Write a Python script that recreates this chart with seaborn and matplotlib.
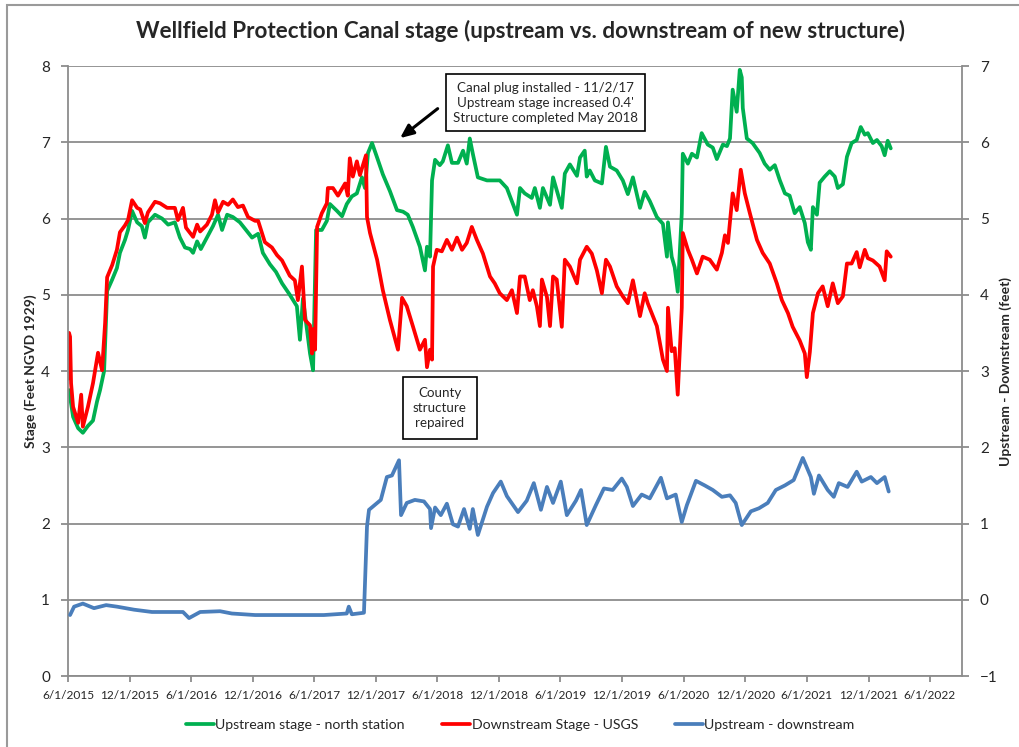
import numpy as np
import pandas as pd
import seaborn as sns
import matplotlib
matplotlib.use("Agg")
import matplotlib.pyplot as plt
from matplotlib.patches import Rectangle

start = pd.Timestamp("2015-06-01")

# days since 6/1/2015, stage in feet NGVD 1929
up_day = [3, 15, 30, 44, 59, 74, 86, 95, 107, 116, 131, 145, 154, 169, 178, 190, 205, 219, 228, 237,
          258, 279, 297, 317, 332, 347, 362, 371, 383, 394, 412, 430, 445, 457, 472, 489, 510, 528, 546, 564,
          578, 599, 617, 635, 658, 679, 688, 697, 718, 727, 736, 753, 768, 777, 798, 813, 827, 842, 857, 872,
          881, 890, 902, 917, 934, 955, 976, 994, 1008, 1023, 1044, 1059, 1065, 1074, 1080, 1089, 1103, 1112, 1127, 1139,
          1157, 1172, 1183, 1192, 1201, 1216, 1243, 1261, 1281, 1302, 1332, 1341, 1355, 1376, 1385, 1400, 1409, 1430, 1439, 1465,
          1474, 1489, 1510, 1519, 1533, 1539, 1548, 1563, 1584, 1596, 1608, 1628, 1646, 1661, 1676, 1697, 1711, 1726, 1747, 1765,
          1777, 1780, 1791, 1800, 1809, 1821, 1824, 1839, 1851, 1866, 1880, 1898, 1913, 1925, 1943, 1955, 1964, 1972, 1984, 1993,
          1999, 2002, 2014, 2031, 2052, 2067, 2082, 2097, 2112, 2127, 2141, 2156, 2171, 2186, 2195, 2204, 2210, 2222, 2230, 2245,
          2260, 2275, 2284, 2299, 2311, 2325, 2340, 2352, 2364, 2373, 2388, 2400, 2414, 2423, 2432, 2441]
up_stage = [3.75, 3.40, 3.25, 3.19, 3.28, 3.35, 3.60, 3.75, 4.00, 5.05, 5.20, 5.35, 5.55, 5.72, 5.85, 6.10, 5.95, 5.90, 5.75, 5.95,
            6.05, 6.00, 5.92, 5.95, 5.75, 5.62, 5.60, 5.55, 5.70, 5.60, 5.75, 5.90, 6.05, 5.85, 6.05, 6.02, 5.95, 5.85, 5.75, 5.80,
            5.55, 5.40, 5.30, 5.15, 5.00, 4.85, 4.41, 4.95, 4.23, 4.01, 5.85, 5.85, 5.97, 6.19, 6.10, 6.03, 6.19, 6.29, 6.33, 6.54,
            6.40, 6.86, 6.99, 6.80, 6.58, 6.36, 6.11, 6.09, 6.05, 5.89, 5.63, 5.32, 5.63, 5.50, 6.50, 6.77, 6.70, 6.75, 6.96, 6.73,
            6.73, 6.89, 6.72, 7.05, 6.85, 6.54, 6.50, 6.50, 6.50, 6.40, 6.05, 6.40, 6.33, 6.27, 6.40, 6.14, 6.40, 6.18, 6.54, 6.14,
            6.59, 6.71, 6.56, 6.80, 6.89, 6.55, 6.63, 6.50, 6.46, 6.94, 6.68, 6.63, 6.50, 6.32, 6.54, 6.14, 6.35, 6.23, 6.02, 5.93,
            5.50, 5.95, 5.50, 5.36, 5.04, 6.07, 6.85, 6.72, 6.85, 6.80, 7.12, 6.97, 6.93, 6.78, 6.97, 6.95, 7.05, 7.69, 7.40, 7.95,
            7.85, 7.45, 7.05, 6.99, 6.86, 6.72, 6.64, 6.70, 6.50, 6.33, 6.30, 6.07, 6.15, 5.94, 5.69, 5.59, 6.15, 6.05, 6.47, 6.55,
            6.62, 6.55, 6.40, 6.45, 6.81, 6.99, 7.03, 7.20, 7.10, 7.12, 6.99, 7.03, 6.95, 6.83, 7.02, 6.92]

down_day = [0, 3, 6, 9, 15, 30, 39, 44, 59, 74, 89, 101, 110, 116, 131, 145, 154, 169, 178, 190,
            205, 214, 228, 237, 258, 273, 294, 317, 326, 341, 350, 371, 383, 392, 412, 427, 436, 445, 460, 475,
            489, 504, 519, 534, 555, 564, 584, 605, 620, 635, 650, 658, 673, 682, 694, 703, 718, 724, 727, 733,
            739, 753, 768, 771, 786, 801, 822, 830, 836, 845, 857, 866, 875, 884, 887, 896, 917, 934, 955, 979,
            991, 1005, 1023, 1044, 1059, 1065, 1074, 1080, 1083, 1094, 1109, 1124, 1139, 1154, 1169, 1183, 1198, 1213, 1231, 1252,
            1266, 1281, 1302, 1317, 1332, 1341, 1355, 1370, 1379, 1391, 1400, 1406, 1421, 1430, 1439, 1450, 1465, 1474, 1489, 1510,
            1519, 1539, 1554, 1569, 1584, 1596, 1608, 1628, 1646, 1661, 1676, 1697, 1711, 1720, 1747, 1765, 1777, 1780, 1791, 1800,
            1809, 1821, 1824, 1839, 1851, 1866, 1883, 1904, 1925, 1940, 1949, 1958, 1972, 1984, 1996, 2008, 2023, 2044, 2061, 2082,
            2103, 2118, 2136, 2150, 2171, 2186, 2192, 2201, 2210, 2225, 2239, 2254, 2269, 2284, 2299, 2311, 2325, 2340, 2349, 2364,
            2373, 2388, 2408, 2423, 2429, 2441]
down_stage = [3.90, 4.50, 4.45, 3.84, 3.53, 3.32, 3.69, 3.27, 3.53, 3.84, 4.24, 4.01, 4.63, 5.23, 5.39, 5.59, 5.82, 5.91, 5.98, 6.24,
              6.14, 6.12, 5.94, 6.08, 6.22, 6.20, 6.14, 6.14, 5.98, 6.14, 5.88, 5.76, 5.92, 5.83, 5.92, 6.05, 6.24, 6.08, 6.22, 6.18,
              6.25, 6.15, 6.17, 6.02, 5.97, 5.97, 5.69, 5.62, 5.52, 5.45, 5.32, 5.25, 5.19, 4.93, 5.37, 4.67, 4.60, 4.23, 4.55, 4.28,
              5.89, 6.07, 6.20, 6.40, 6.40, 6.30, 6.46, 6.30, 6.79, 6.55, 6.75, 6.57, 6.70, 6.83, 6.02, 5.81, 5.46, 5.06, 4.67, 4.28,
              4.96, 4.85, 4.59, 4.28, 4.41, 4.05, 4.28, 4.15, 5.37, 5.59, 5.57, 5.72, 5.59, 5.75, 5.59, 5.68, 5.89, 5.72, 5.54, 5.24,
              5.15, 5.02, 4.93, 5.06, 4.76, 5.24, 5.24, 4.93, 5.06, 4.85, 4.59, 5.20, 4.97, 4.59, 5.24, 5.20, 4.58, 5.46, 5.37, 5.15,
              5.46, 5.63, 5.54, 5.32, 5.02, 5.46, 5.37, 5.11, 4.98, 4.89, 5.19, 4.72, 5.02, 4.89, 4.59, 4.15, 4.00, 4.83, 4.26, 4.30,
              3.69, 4.83, 5.81, 5.59, 5.46, 5.28, 5.50, 5.46, 5.33, 5.55, 5.78, 5.68, 6.33, 6.11, 6.64, 6.33, 6.07, 5.72, 5.55, 5.41,
              5.15, 4.93, 4.76, 4.58, 4.40, 4.23, 3.92, 4.25, 4.76, 5.02, 5.11, 4.85, 5.15, 4.89, 4.98, 5.41, 5.41, 5.56, 5.36, 5.59,
              5.48, 5.45, 5.37, 5.19, 5.57, 5.50]

# upstream - downstream (feet), right axis
diff_day = [6, 18, 44, 77, 113, 145, 196, 249, 341, 359, 392, 451, 486, 555, 655, 759, 827, 833, 842, 878,
            887, 893, 928, 946, 961, 982, 988, 1005, 1029, 1056, 1074, 1077, 1089, 1106, 1124, 1142, 1157, 1175, 1192, 1201,
            1216, 1243, 1261, 1284, 1302, 1335, 1361, 1382, 1403, 1421, 1439, 1462, 1480, 1507, 1522, 1539, 1566, 1590, 1616, 1643,
            1658, 1676, 1702, 1726, 1759, 1777, 1803, 1821, 1836, 1863, 1889, 1913, 1940, 1964, 1981, 1999, 2026, 2050, 2076, 2100,
            2127, 2153, 2180, 2204, 2213, 2228, 2254, 2272, 2287, 2313, 2340, 2355, 2382, 2400, 2423, 2435]
diff_ft = [-0.20, -0.09, -0.05, -0.11, -0.07, -0.09, -0.13, -0.16, -0.16, -0.24, -0.16, -0.15, -0.18, -0.20, -0.20, -0.20, -0.18, -0.09, -0.19, -0.17,
           0.96, 1.18, 1.31, 1.61, 1.63, 1.83, 1.11, 1.27, 1.31, 1.29, 1.19, 0.94, 1.21, 1.11, 1.26, 0.99, 0.96, 1.19, 0.93, 1.19,
           0.85, 1.22, 1.40, 1.55, 1.36, 1.15, 1.30, 1.53, 1.18, 1.48, 1.27, 1.55, 1.11, 1.30, 1.44, 0.98, 1.24, 1.46, 1.44, 1.59,
           1.48, 1.23, 1.38, 1.33, 1.60, 1.33, 1.38, 1.02, 1.24, 1.56, 1.50, 1.44, 1.35, 1.37, 1.27, 0.98, 1.16, 1.20, 1.27, 1.44,
           1.50, 1.57, 1.86, 1.61, 1.39, 1.63, 1.44, 1.35, 1.53, 1.48, 1.68, 1.55, 1.61, 1.53, 1.61, 1.42]

tick_dates = pd.date_range("2015-06-01", "2022-06-01", freq="6MS")
tick_labels = [f"{d.month}/{d.day}/{d.year}" for d in tick_dates]


def to_dates(days):
    return start + pd.to_timedelta(days, unit="D")


up = pd.DataFrame({"date": to_dates(up_day), "stage": up_stage})
down = pd.DataFrame({"date": to_dates(down_day), "stage": down_stage})
diff = pd.DataFrame({"date": to_dates(diff_day), "ft": diff_ft})

sns.set_style("white")
plt.rcParams["font.family"] = ["Lato", "DejaVu Sans"]
grey = "#8c8c8c"

fig = plt.figure(figsize=(10.2, 7.47), dpi=100)
ax = fig.add_axes([0.0667, 0.095, 0.8763, 0.8166])
ax2 = ax.twinx()

sns.lineplot(data=up, x="date", y="stage", ax=ax, color="#00B050", lw=2.7,
             label="Upstream stage - north station")
sns.lineplot(data=down, x="date", y="stage", ax=ax, color="#FF0000", lw=2.7,
             label="Downstream Stage - USGS")
sns.lineplot(data=diff, x="date", y="ft", ax=ax2, color="#4A7EBB", lw=2.7,
             label="Upstream - downstream")

h1, l1 = ax.get_legend_handles_labels()
h2, l2 = ax2.get_legend_handles_labels()
ax.get_legend().remove()
ax2.get_legend().remove()

ax.set_xlim(start, pd.Timestamp("2022-09-04"))
ax.set_ylim(0, 8)
ax2.set_ylim(-1, 7)
ax.set_yticks(range(0, 9))
ax2.set_yticks(range(-1, 8))
ax.set_xticks(tick_dates)
ax.set_xticklabels(tick_labels, fontsize=8.6)

ax.yaxis.grid(True, color=grey, lw=1.3)
ax.set_axisbelow(True)
ax.spines["top"].set_visible(False)
ax2.spines["top"].set_visible(False)
for a in (ax, ax2):
    for s in ["left", "bottom", "right"]:
        a.spines[s].set_color(grey)
        a.spines[s].set_linewidth(1.3)
ax.spines["right"].set_visible(False)
ax2.spines["left"].set_visible(False)
ax2.spines["bottom"].set_visible(False)

ax.tick_params(axis="y", length=5, width=1.3, color=grey, labelsize=11, pad=8, direction="out", left=True)
ax.tick_params(axis="x", length=4, width=1.3, color=grey, pad=6, direction="out", bottom=True)
ax2.tick_params(axis="y", length=5, width=1.3, color=grey, labelsize=11, pad=8, direction="out", right=True)

ax.set_xlabel("")
ax.set_ylabel("Stage (Feet NGVD 1929)", fontsize=10, fontweight="bold", labelpad=3)
ax2.set_ylabel("Upstream - Downstream (feet)", fontsize=10, fontweight="bold", labelpad=1)

fig.suptitle("Wellfield Protection Canal stage (upstream vs. downstream of new structure)",
             x=0.51, y=0.973, fontsize=16.2, fontweight="bold")

fig.legend(h1 + h2, l1 + l2, loc="center", bbox_to_anchor=(0.51, 0.03), ncol=3,
           frameon=False, fontsize=10.2, handlelength=2.0, handletextpad=0.1, columnspacing=2.6)

# annotations
ax.annotate("Canal plug installed - 11/2/17\nUpstream stage increased 0.4'\nStructure completed May 2018",
            xy=(0.534, 0.94), xycoords="axes fraction", ha="center", va="center", fontsize=9.6,
            linespacing=1.3,
            bbox=dict(boxstyle="square,pad=0.55", fc="white", ec="black", lw=1.2))
ax.annotate("", xy=(0.369, 0.879), xytext=(0.416, 0.933), xycoords="axes fraction",
            arrowprops=dict(arrowstyle="-|>,head_length=0.8,head_width=0.35", color="black", lw=2.2))
ax.annotate("County\nstructure\nrepaired", xy=(0.416, 0.44), xycoords="axes fraction",
            ha="center", va="center", fontsize=9.6, linespacing=1.3,
            bbox=dict(boxstyle="square,pad=0.75", fc="white", ec="black", lw=1.2))

# chart border (right edge falls outside the picture)
fig.patches.append(Rectangle((0.007, -0.02), 1.05, 1.013, transform=fig.transFigure,
                             fill=False, ec="#9a9a9a", lw=1.5))

fig.savefig("out.png", dpi=100)
